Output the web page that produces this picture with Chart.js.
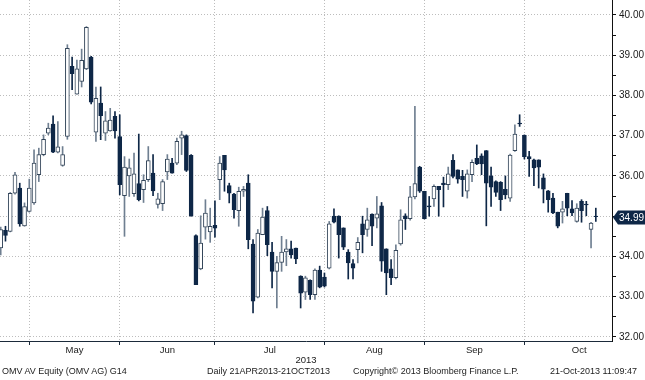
<!DOCTYPE html>
<html><head><meta charset="utf-8">
<script src="https://cdn.jsdelivr.net/npm/chart.js@4.4.0/dist/chart.umd.min.js"></script>
<style>
html,body{margin:0;padding:0;background:#fff;}
#wrap{position:relative;width:645px;height:380px;overflow:hidden;background:#fff;}
canvas{position:absolute;left:0;top:0;}
.ft{position:absolute;top:366px;font-family:"Liberation Sans",Arial,sans-serif;font-size:9px;line-height:11px;color:#1c1c1c;white-space:nowrap;}
</style></head><body>
<div id="wrap"><canvas id="c" width="645" height="380"></canvas>
<div class="ft" style="left:2px">OMV AV Equity (OMV AG) G14</div>
<div class="ft" style="left:207px">Daily 21APR2013-21OCT2013</div>
<div class="ft" style="left:353px">Copyright© 2013 Bloomberg Finance L.P.</div>
<div class="ft" style="left:550px">21-Oct-2013 11:09:47</div>
</div>
<script>
const dates = [
'2013-04-22','2013-04-23','2013-04-24','2013-04-25','2013-04-26','2013-04-29','2013-04-30',
'2013-05-02','2013-05-03','2013-05-06','2013-05-07','2013-05-08','2013-05-10','2013-05-13','2013-05-14','2013-05-15','2013-05-16','2013-05-17','2013-05-21','2013-05-22','2013-05-23','2013-05-24','2013-05-27','2013-05-28','2013-05-29','2013-05-31',
'2013-06-03','2013-06-04','2013-06-05','2013-06-06','2013-06-07','2013-06-10','2013-06-11','2013-06-12','2013-06-13','2013-06-14','2013-06-17','2013-06-18','2013-06-19','2013-06-20','2013-06-21','2013-06-24','2013-06-25','2013-06-26','2013-06-27','2013-06-28',
'2013-07-01','2013-07-02','2013-07-03','2013-07-04','2013-07-05','2013-07-08','2013-07-09','2013-07-10','2013-07-11','2013-07-12','2013-07-15','2013-07-16','2013-07-17','2013-07-18','2013-07-19','2013-07-22','2013-07-23','2013-07-24','2013-07-25','2013-07-26','2013-07-29','2013-07-30','2013-07-31',
'2013-08-01','2013-08-02','2013-08-05','2013-08-06','2013-08-07','2013-08-08','2013-08-09','2013-08-12','2013-08-13','2013-08-14','2013-08-16','2013-08-19','2013-08-20','2013-08-21','2013-08-22','2013-08-23','2013-08-26','2013-08-27','2013-08-28','2013-08-29','2013-08-30',
'2013-09-02','2013-09-03','2013-09-04','2013-09-05','2013-09-06','2013-09-09','2013-09-10','2013-09-11','2013-09-12','2013-09-13','2013-09-16','2013-09-17','2013-09-18','2013-09-19','2013-09-20','2013-09-23','2013-09-24','2013-09-25','2013-09-26','2013-09-27','2013-09-30',
'2013-10-01','2013-10-02','2013-10-03','2013-10-04','2013-10-07','2013-10-08','2013-10-09','2013-10-10','2013-10-11','2013-10-14','2013-10-15','2013-10-16','2013-10-17','2013-10-18','2013-10-21'];

const open = [34.21,34.65,34.62,35.57,35.70,34.76,35.12,35.33,36.03,36.53,
37.06,37.29,36.59,36.26,36.98,38.72,38.03,38.35,38.66,38.95,
37.09,37.81,37.06,37.12,37.48,36.98,35.51,36.00,35.56,35.81,
35.66,35.91,36.07,35.29,35.31,36.10,36.32,36.32,36.94,37.00,
36.51,34.52,33.69,34.73,34.61,34.77,35.91,36.51,35.76,35.55,
35.14,35.62,35.82,34.31,32.99,34.54,35.14,34.11,33.63,33.85,
34.11,34.19,34.21,33.51,33.11,33.41,33.05,33.66,33.49,33.71,
35.00,35.00,34.71,34.11,33.82,34.17,34.81,34.67,35.05,34.95,
35.26,34.19,33.69,33.47,34.31,35.01,34.94,35.48,36.22,35.62,
35.26,35.43,35.74,35.82,35.78,36.39,36.15,35.99,35.62,36.03,
36.44,36.50,36.63,36.00,35.86,35.84,35.67,35.45,36.63,37.31,
37.01,36.48,36.40,36.40,35.95,35.63,35.45,35.10,35.10,35.57,
35.18,34.87,35.37,35.30,34.67,35.00];
const high = [34.73,34.75,35.59,36.09,35.82,35.33,35.92,36.65,36.69,37.02,
37.31,37.49,37.35,36.73,39.26,38.95,38.88,39.15,39.71,38.97,
38.21,38.21,37.60,37.68,37.60,37.52,36.48,36.42,36.57,37.04,
36.03,36.73,36.53,35.57,35.91,36.53,36.44,36.94,37.11,37.02,
36.53,34.54,35.01,35.41,35.20,35.38,36.48,36.51,35.82,35.57,
35.72,35.74,36.03,34.42,34.67,35.20,35.24,34.35,34.00,34.50,
34.42,34.38,34.21,33.52,33.51,33.42,33.69,33.76,33.59,34.87,
35.18,35.01,34.71,34.17,33.92,34.47,35.00,35.20,35.06,35.49,
35.34,34.19,33.92,34.29,35.16,35.06,35.74,37.73,36.24,35.62,
35.49,35.78,35.74,35.97,36.22,36.53,36.15,36.14,36.15,36.40,
36.77,36.55,36.63,36.22,35.88,35.86,36.00,36.54,37.27,37.52,
37.02,36.61,36.42,36.40,36.05,35.64,35.57,35.10,35.37,35.57,
35.39,35.31,35.41,35.37,34.85,35.20];
const low = [34.04,34.38,34.61,35.55,34.75,34.75,35.10,35.29,35.86,36.50,
37.02,36.58,36.57,36.24,36.91,38.14,38.03,38.21,38.64,37.79,
36.86,36.90,36.88,37.11,36.94,35.53,34.50,35.49,35.49,35.38,
35.34,35.86,35.51,35.20,35.14,35.91,36.07,36.28,36.53,36.11,
35.00,33.30,33.67,34.43,34.35,34.48,35.41,35.62,35.33,34.95,
34.75,35.49,34.19,32.60,32.97,34.54,34.02,33.22,32.72,33.63,
33.77,33.96,33.82,32.72,32.93,32.93,32.93,33.22,33.24,33.69,
34.83,33.96,34.17,33.44,33.44,33.84,34.09,34.50,34.27,34.71,
33.63,33.05,33.30,33.44,34.28,34.67,34.90,35.43,35.59,34.93,
35.00,35.24,35.00,35.23,35.66,35.95,35.82,35.49,35.45,35.86,
36.28,36.03,34.76,35.24,35.49,35.14,35.43,35.37,36.61,37.23,
36.42,35.99,35.76,35.70,35.33,35.10,35.06,34.71,34.83,35.01,
35.01,34.85,34.85,35.01,34.21,34.87];
const close = [34.67,34.52,35.57,36.03,34.81,35.24,35.70,36.32,36.53,36.91,
37.19,36.59,36.72,36.53,39.17,38.54,38.66,38.87,39.69,37.83,
37.93,37.50,37.37,37.39,37.12,35.78,36.22,36.20,36.05,35.41,
35.89,36.38,35.63,35.43,35.86,36.42,36.07,36.86,37.02,36.14,
35.00,33.30,34.33,35.08,34.75,34.70,36.32,36.15,35.57,35.16,
35.62,35.67,34.42,32.89,34.58,34.98,34.29,33.63,33.85,34.11,
34.19,34.04,33.94,33.09,33.47,33.05,33.66,33.24,33.26,34.81,
34.85,34.54,34.23,33.84,33.71,34.35,34.54,34.91,34.75,35.06,
33.88,33.59,33.47,34.15,34.91,34.94,35.48,35.81,35.62,34.94,
35.23,35.74,35.66,35.78,36.05,35.99,35.92,35.91,36.05,36.34,
36.30,36.30,35.82,35.72,35.59,35.41,35.53,36.52,37.04,37.29,
36.48,36.42,36.20,36.22,35.67,35.41,35.08,34.75,35.18,35.20,
35.08,35.20,35.14,35.28,34.83,34.99];

const months = ['May','Jun','Jul','Aug','Sep','Oct'];
const monthStart = [7,26,46,69,90,111];     // index of first trading day of each month
const monthDays = [19,20,23,21,21,23];      // trading days in the full month
const yMajor = [32,33,34,35,36,37,38,39,40];
const yearLabel = '2013';

const NAVY = '#0e2747';
const FONT = '"Liberation Sans", Arial, sans-serif';

const bounds = monthStart.map(s => s - 1);
const mids = monthStart.map((s, k) => s - 1 + monthDays[k] / 2);
const yAll = [];
yMajor.forEach((v, k) => { yAll.push(v); if (k < yMajor.length - 1) yAll.push(v + 0.5); });

const isUp = i => close[i] >= open[i];

const lastPricePlugin = {
  id: 'lastPrice',
  afterDraw(chart) {
    const ctx = chart.ctx;
    const v = close[close.length - 1];
    const y = Math.round(chart.scales.y.getPixelForValue(v)) + 0.5;
    const x0 = chart.chartArea.right + 1;
    ctx.save();
    ctx.fillStyle = NAVY;
    ctx.beginPath();
    ctx.moveTo(x0, y);
    ctx.lineTo(x0 + 5, y - 7);
    ctx.lineTo(645, y - 7);
    ctx.lineTo(645, y + 7);
    ctx.lineTo(x0 + 5, y + 7);
    ctx.closePath();
    ctx.fill();
    ctx.fillStyle = '#ffffff';
    ctx.font = '10px ' + FONT;
    ctx.textBaseline = 'middle';
    ctx.textAlign = 'left';
    ctx.fillText(v.toFixed(2), x0 + 6, y + 0.5);
    ctx.restore();
  }
};

new Chart(document.getElementById('c'), {
  type: 'bar',
  data: {
    labels: dates,
    datasets: [
      {
        label: 'Body',
        order: 0,
        data: open.map((o, i) => ({ x: i, y: [o, close[i]] })),
        backgroundColor: c => isUp(c.dataIndex) ? '#ffffff' : NAVY,
        borderColor: c => isUp(c.dataIndex) ? '#34465a' : NAVY,
        borderWidth: 1,
        borderSkipped: false,
        barThickness: 4,
        grouped: false
      },
      {
        label: 'Range',
        order: 1,
        data: low.map((l, i) => ({ x: i, y: [l, high[i]] })),
        backgroundColor: c => isUp(c.dataIndex) ? '#6f7f91' : NAVY,
        borderWidth: 0,
        barThickness: 1,
        grouped: false
      }
    ]
  },
  options: {
    responsive: false,
    devicePixelRatio: 1,
    animation: false,
    layout: { padding: 0 },
    plugins: {
      legend: { display: false },
      tooltip: {
        callbacks: {
          title: items => dates[items[0].dataIndex],
          label: item => {
            const i = item.dataIndex;
            return 'O ' + open[i].toFixed(2) + '  H ' + high[i].toFixed(2) + '  L ' + low[i].toFixed(2) + '  C ' + close[i].toFixed(2);
          }
        }
      }
    },
    scales: {
      x: {
        type: 'linear',
        min: -0.15,
        max: 128.4,
        offset: false,
        afterBuildTicks: s => {
          s.ticks = bounds.map(v => ({ value: v })).concat(mids.map(v => ({ value: v })));
        },
        afterFit: s => { s.height = 39; s.paddingLeft = 0; s.paddingRight = 0; },
        ticks: {
          autoSkip: false,
          maxRotation: 0,
          padding: 0,
          color: '#1a1a1a',
          font: { family: FONT, size: 9.5 },
          callback: v => { const k = mids.indexOf(v); return k >= 0 ? months[k] : ''; }
        },
        grid: {
          offset: false,
          color: c => (c.tick && bounds.includes(c.tick.value)) ? '#bdbdbd' : 'rgba(0,0,0,0)',
          tickColor: c => (c.tick && bounds.includes(c.tick.value)) ? '#1b2a3a' : 'rgba(0,0,0,0)',
          tickLength: 4,
          lineWidth: 1
        },
        border: { display: true, color: '#1b2a3a', width: 1, dash: [1, 2] },
        title: {
          display: true,
          text: yearLabel,
          color: '#1a1a1a',
          font: { family: FONT, size: 9.5 },
          padding: { top: 0, bottom: 14 }
        }
      },
      y: {
        position: 'right',
        min: 31.9,
        max: 40.37,
        afterBuildTicks: s => { s.ticks = yAll.map(v => ({ value: v })); },
        afterFit: s => { s.width = 33; s.paddingTop = 0; s.paddingBottom = 0; },
        ticks: {
          autoSkip: false,
          padding: 3,
          color: '#1a1a1a',
          font: { family: FONT, size: 10 },
          callback: v => Number.isInteger(v) ? v.toFixed(2) : ''
        },
        grid: {
          color: c => (c.tick && Number.isInteger(c.tick.value)) ? '#bdbdbd' : 'rgba(0,0,0,0)',
          tickColor: '#111111',
          tickLength: 4,
          lineWidth: 1
        },
        border: { display: true, color: '#111111', width: 1, dash: [1, 2] }
      }
    }
  },
  plugins: [lastPricePlugin]
});
</script>
</body></html>
